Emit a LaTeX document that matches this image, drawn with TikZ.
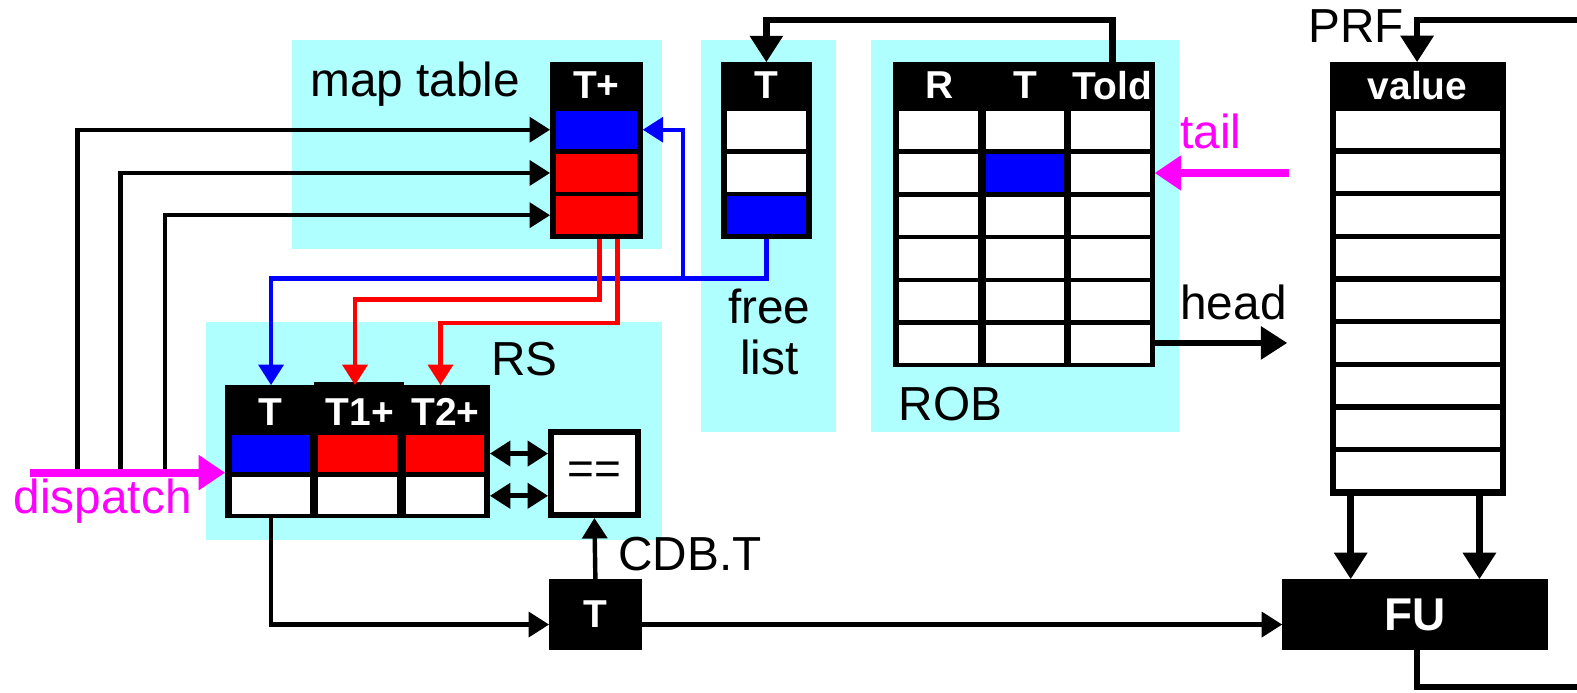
\documentclass[tikz,border=0pt]{standalone}
\usepackage{fontspec}
\setmainfont{Liberation Sans}
\usetikzlibrary{arrows.meta,calc}
\definecolor{panelcyan}{RGB}{176,255,255}
\definecolor{mag}{RGB}{255,0,255}
\tikzset{
  panel/.style={fill=panelcyan},                                  % light cyan unit background
  tblframe/.style={fill=black,inner sep=0pt,outer sep=0pt},       % black table body
  cell/.style={fill=white,inner sep=0pt,outer sep=0pt,minimum width=0.80cm,minimum height=0.38cm},
  hdr/.style={text=white,font=\fontsize{11}{13}\selectfont\bfseries,inner sep=0pt},
  lbl/.style={font=\fontsize{13.5}{16}\selectfont,inner sep=0pt},
  wire/.style={line width=1.25pt,-{Triangle[length=5.8pt,width=7pt]}},
  bwire/.style={blue,line width=1.25pt,-{Triangle[length=5.8pt,width=7pt]}},
  rwire/.style={red,line width=1.25pt,-{Triangle[length=5.8pt,width=7pt]}},
  dbl/.style={line width=1.4pt,{Triangle[length=5.8pt,width=7pt]}-{Triangle[length=5.8pt,width=7pt]}},
  pwire/.style={mag,line width=2.3pt,-{Triangle[length=7.5pt,width=9.5pt]}},
  fat/.style={line width=1.9pt},
  fatwire/.style={line width=1.9pt,-{Triangle[length=7.5pt,width=9pt]}},
}

\begin{document}
\begin{tikzpicture}[x=0.01cm,y=-0.01cm]
  \useasboundingbox (0,0) rectangle (1568,689);
  % unit backgrounds
  \fill[panel] (290,40) rectangle (658,248);
  \fill[panel] (205,320) rectangle (658,537);
  \fill[panel] (697,40) rectangle (831,430);
  \fill[panel] (866,40) rectangle (1172,430);

  % map table
  \node[tblframe,minimum width=0.92cm,minimum height=1.76cm] (map) at (593,150) {};
  \node[hdr] (maphdr) at (593,85) {T+};
  \node[cell,fill=blue] (map1) at (593,129) {};
  \node[cell,fill=red] (map2) at (593,172) {};
  \node[cell,fill=red] (map3) at (593,214) {};
  \node[lbl,anchor=base west] (maplbl) at (308,96) {map table};

  % free list
  \node[tblframe,minimum width=0.91cm,minimum height=1.76cm] (fl) at (762,150) {};
  \node[hdr] (flhdr) at (762,85) {T};
  \node[cell,minimum width=0.79cm] (fl1) at (762,129) {};
  \node[cell,minimum width=0.79cm] (fl2) at (762,172) {};
  \node[cell,minimum width=0.79cm,fill=blue] (fl3) at (762,214) {};
  \node[lbl,anchor=base] (freelbl) at (765,322) {free};
  \node[lbl,anchor=base] (listlbl) at (765,372) {list};

  % ROB
  \node[tblframe,minimum width=2.60cm,minimum height=3.03cm] (rob) at (1018,213.5) {};
  \node[hdr] (robR) at (934,85) {R};
  \node[hdr] (robT) at (1020,85) {T};
  \node[hdr] (robTold) at (1106,85) {Told};
  \foreach \c/\x in {1/933,2/1019,3/1104}
    \foreach \r/\y in {1/129,2/172,3/214.5,4/257,5/299.5,6/342}
      \node[cell,minimum width=0.78cm] (rob\r\c) at (\x,\y) {};
  \node[cell,minimum width=0.78cm,fill=blue] at (rob22) {};
  \node[lbl,anchor=base west] (roblbl) at (893,418) {ROB};

  % PRF
  \node[tblframe,minimum width=1.75cm,minimum height=4.31cm] (prf) at (1409.5,277.5) {};
  \node[hdr] (prfhdr) at (1409.5,85) {value};
  \foreach \i in {1,...,9}
    \node[cell,minimum width=1.63cm,minimum height=0.37cm] (prf\i) at (1409.5,{86.6+42.4*\i}) {};
  \node[lbl,anchor=base west] (prflbl) at (1300,42) {PRF};

  % RS
  \node[tblframe,minimum width=2.63cm,minimum height=1.32cm] (rs) at (355.5,449) {};
  \fill (312,380) rectangle (402,386);
  \node[hdr] (rshT) at (269,410) {T};
  \node[hdr] (rshA) at (358,410) {T1+};
  \node[hdr] (rshB) at (443,410) {T2+};
  \foreach \c/\x/\col in {1/269.5/blue,2/355.5/red,3/442.5/red} {
    \node[cell,minimum width=0.78cm,minimum height=0.37cm,fill=\col] (rsa\c) at (\x,451) {};
    \node[cell,minimum width=0.78cm,minimum height=0.37cm] (rsb\c) at (\x,493) {};
  }
  \node[lbl,anchor=base west] (rslbl) at (488,373) {RS};

  % comparator, CDB tag, FU
  \node[tblframe,minimum width=0.92cm,minimum height=0.88cm] (eq) at (591,471) {};
  \node[cell,minimum width=0.80cm,minimum height=0.76cm,font=\fontsize{13}{15}\selectfont] (eqin) at (591,471) {==};
  \node[tblframe,hdr,minimum width=0.92cm,minimum height=0.70cm] (cdb) at (592,611) {T};
  \node[lbl,anchor=base west] (cdblbl) at (614,567) {CDB.T};
  \node[tblframe,text=white,font=\fontsize{13}{15}\selectfont\bfseries,minimum width=2.64cm,minimum height=0.70cm] (fu) at (1407,611) {FU};

  % dispatch into map table and RS
  \coordinate (d1) at (77,472);
  \coordinate (d2) at (120,472);
  \coordinate (d3) at (164,468);
  \coordinate (disp) at (30,470);
  \draw[wire] (d1) |- (map.west |- map1);
  \draw[wire] (d2) |- (map.west |- map2);
  \draw[wire] (d3) |- (map.west |- map3);
  \draw[pwire] (disp) -- (rs.west |- disp);
  \node[lbl,anchor=base west,text=mag] (displbl) at (13,511) {dispatch};

  % free list -> map table, RS
  \coordinate (bj) at (679,277);
  \draw[bwire] (fl.south) |- (bj) -| (rs.north -| rsa1);
  \draw[bwire] (bj) |- (map.east |- map1);

  % map table -> RS sources
  \coordinate (r1) at (596,298);
  \coordinate (r2) at (614,321);
  \coordinate (s1) at (353,0);
  \coordinate (s2) at (438,0);
  \draw[rwire] (map.south -| r1) -- (r1) -| (rs.north -| s1);
  \draw[rwire] (map.south -| r2) -- (r2) -| (rs.north -| s2);

  % RS <-> comparator
  \draw[dbl] (rs.east |- rsa1) -- (eq.west |- rsa1);
  \draw[dbl] (rs.east |- rsb1) -- (eq.west |- rsb1);

  % issue / CDB
  \coordinate (bus) at (0,621);
  \draw[wire] (rs.south -| rsa1) |- (cdb.west |- bus);
  \draw[wire] (cdb.north) -- (eq.south);
  \draw[wire] (cdb.east |- bus) -- (fu.west |- bus);

  % PRF <-> FU
  \coordinate (p1) at (1343,0);
  \coordinate (p2) at (1471,0);
  \coordinate (wb) at (1409,0);
  \coordinate (wbout) at (1568,683);
  \coordinate (wbin) at (1568,20);
  \draw[fatwire] (prf.south -| p1) -- (fu.north -| p1);
  \draw[fatwire] (prf.south -| p2) -- (fu.north -| p2);
  \draw[fat] (fu.south -| wb) |- (wbout);
  \draw[fatwire] (wbin) -| (prf.north -| wb);

  % ROB Told -> free list
  \coordinate (top) at (0,20);
  \draw[fatwire] (rob.north -| robTold) -- (robTold |- top) -| (fl.north);

  % ROB tail / head
  \coordinate (tailin) at (1282,172);
  \coordinate (headout) at (1280,341);
  \draw[pwire] (tailin) -- (rob.east |- rob22);
  \node[lbl,anchor=base west,text=mag] (taillbl) at (1173,148) {tail};
  \draw[fatwire] (rob.east |- headout) -- (headout);
  \node[lbl,anchor=base west] (headlbl) at (1173,318) {head};
\end{tikzpicture}
\end{document}
